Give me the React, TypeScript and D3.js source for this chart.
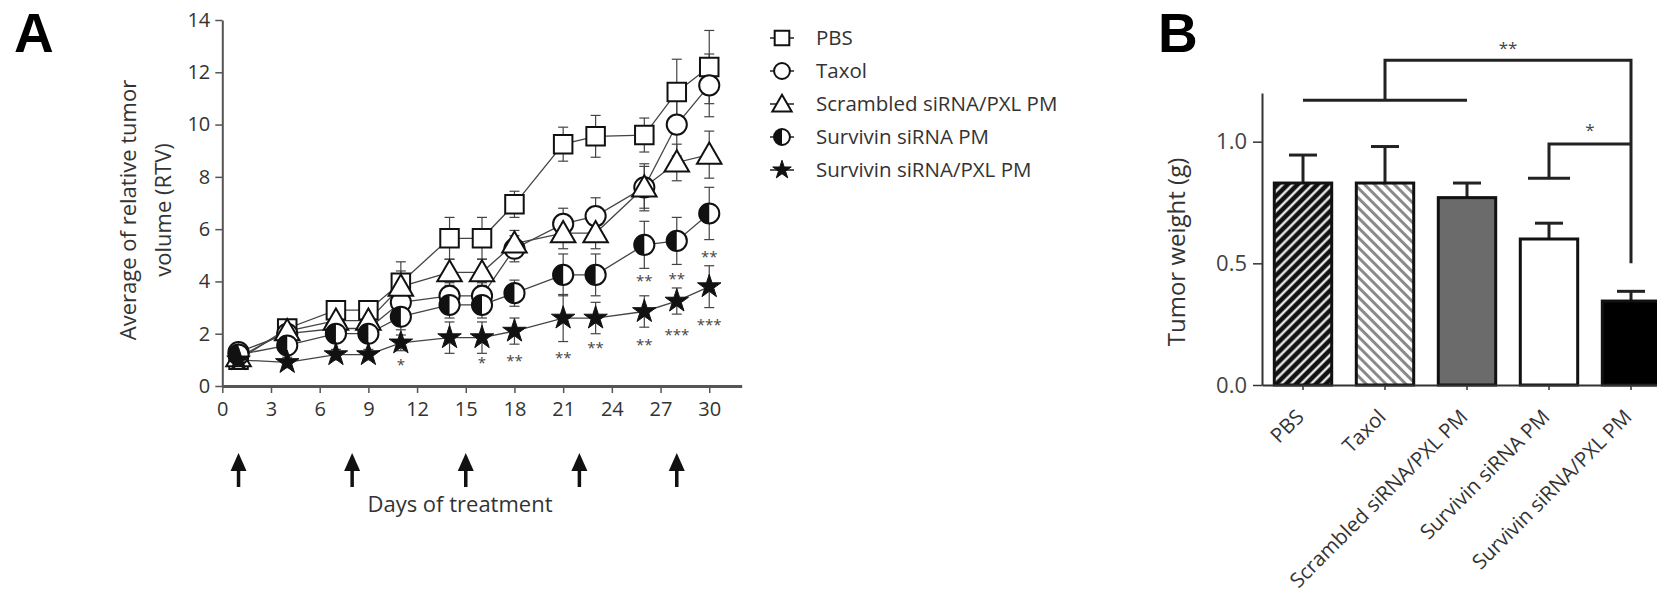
import React, { useEffect, useRef } from 'react';
import * as d3 from 'd3';

// panel A: relative tumor volume over time
const days = [1, 4, 7, 9, 11, 14, 16, 18, 21, 23, 26, 28, 30];
const groupNames = ['PBS', 'Taxol', 'Scrambled siRNA/PXL PM', 'Survivin siRNA PM', 'Survivin siRNA/PXL PM'];
const groupSymbols = ['square', 'circle', 'triangle', 'half', 'star'];

const pbsRTV = [1.0, 2.2, 2.9, 2.9, 3.95, 5.65, 5.65, 6.95, 9.25, 9.55, 9.6, 11.25, 12.2];
const taxolRTV = [1.3, 2.0, 2.2, 2.2, 3.2, 3.45, 3.45, 5.25, 6.2, 6.5, 7.6, 10.0, 11.5];
const scrambledRTV = [1.1, 2.1, 2.5, 2.5, 3.8, 4.35, 4.35, 5.45, 5.85, 5.85, 7.6, 8.55, 8.85];
const survivinRTV = [1.2, 1.55, 2.0, 2.0, 2.65, 3.1, 3.1, 3.55, 4.25, 4.25, 5.4, 5.55, 6.6];
const survivinPxlRTV = [1.0, 0.9, 1.2, 1.2, 1.65, 1.85, 1.85, 2.1, 2.6, 2.6, 2.85, 3.25, 3.8];

const pbsErr = [0.15, 0.25, 0.3, 0.3, 0.8, 0.8, 0.8, 0.5, 0.65, 0.8, 0.65, 1.25, 1.4];
const taxolErr = [0.15, 0.3, 0.3, 0.3, 0.6, 0.5, 0.5, 0.5, 0.6, 0.7, 0.9, 1.2, 1.2];
const scrambledErr = [0.15, 0.3, 0.3, 0.3, 0.6, 0.5, 0.5, 0.5, 0.6, 0.6, 0.8, 0.7, 0.9];
const survivinErr = [0.15, 0.3, 0.3, 0.3, 0.5, 0.5, 0.5, 0.5, 0.8, 0.8, 0.9, 0.9, 1.0];
const survivinPxlErr = [0.1, 0.2, 0.2, 0.2, 0.3, 0.6, 0.6, 0.5, 0.9, 0.6, 0.6, 0.5, 0.8];

const doseDays = [1, 8, 15, 22, 28];
const xTicksA = [0, 3, 6, 9, 12, 15, 18, 21, 24, 27, 30];
const yTicksA = [0, 2, 4, 6, 8, 10, 12, 14];

const sigDays = [11, 16, 18, 21, 23, 26, 26, 28, 28, 30, 30];
const sigLevels = [0.92, 1.0, 1.07, 1.19, 1.57, 4.13, 1.68, 4.2, 2.07, 5.05, 2.45];
const sigLabels = ['*', '*', '**', '**', '**', '**', '**', '**', '***', '**', '***'];

// panel B: tumor weight
const weightMeans = [0.83, 0.83, 0.77, 0.6, 0.345];
const weightErr = [0.115, 0.15, 0.06, 0.065, 0.04];
const barFills = ['url(#hatchDark)', 'url(#hatchLight)', '#6b6b6b', '#ffffff', '#000000'];
const yTicksB = [0, 0.5, 1.0];

const W = 1657;
const H = 608;

function drawMarker(g, type, s) {
  if (type === 'half') {
    g.append('circle').attr('r', s * 0.53).attr('fill', '#fff').attr('stroke', '#111').attr('stroke-width', 2);
    g.append('path')
      .attr('d', d3.arc()({ innerRadius: 0, outerRadius: s * 0.53, startAngle: Math.PI, endAngle: 2 * Math.PI }))
      .attr('fill', '#111');
    return;
  }
  const shape = {
    square: d3.symbolSquare,
    circle: d3.symbolCircle,
    triangle: d3.symbolTriangle,
    star: d3.symbolStar
  }[type];
  const area = {
    square: s * s * 0.95,
    circle: Math.PI * (s * 0.53) * (s * 0.53),
    triangle: s * s * 0.72,
    star: (s * 0.65) * (s * 0.65) / 0.891
  }[type];
  g.append('path')
    .attr('d', d3.symbol().type(shape).size(area)())
    .attr('transform', type === 'triangle' ? 'translate(0,2)' : null)
    .attr('fill', type === 'star' ? '#111' : '#fff')
    .attr('stroke', '#111')
    .attr('stroke-width', type === 'star' ? 1 : 2);
}

export default function App() {
  const ref = useRef(null);

  useEffect(() => {
    const svg = d3.select(ref.current);
    svg.selectAll('*').remove();
    const font = "'Open Sans', 'Noto Sans', sans-serif";

    const defs = svg.append('defs');
    const p1 = defs.append('pattern').attr('id', 'hatchDark').attr('patternUnits', 'userSpaceOnUse')
      .attr('width', 7).attr('height', 7).attr('patternTransform', 'rotate(45)');
    p1.append('rect').attr('width', 7).attr('height', 7).attr('fill', '#111');
    p1.append('line').attr('x1', 1.5).attr('x2', 1.5).attr('y1', 0).attr('y2', 7).attr('stroke', '#fff').attr('stroke-width', 2.2);
    const p2 = defs.append('pattern').attr('id', 'hatchLight').attr('patternUnits', 'userSpaceOnUse')
      .attr('width', 7).attr('height', 7).attr('patternTransform', 'rotate(-45)');
    p2.append('rect').attr('width', 7).attr('height', 7).attr('fill', '#fff');
    p2.append('line').attr('x1', 1.5).attr('x2', 1.5).attr('y1', 0).attr('y2', 7).attr('stroke', '#8a8a8a').attr('stroke-width', 3);

    // ---------- panel A ----------
    const x = d3.scaleLinear().domain([0, 32]).range([222.3, 741.7]);
    const y = d3.scaleLinear().domain([0, 14]).range([386, 20]);

    svg.append('text').attr('x', 14).attr('y', 52).text('A')
      .style('font-family', "'Liberation Sans', Arial, sans-serif").style('font-weight', 'bold').style('font-size', '55px');

    const gx = svg.append('g').attr('transform', `translate(0,${y(0)})`)
      .call(d3.axisBottom(x).tickValues(xTicksA).tickSize(7).tickSizeOuter(0).tickPadding(9));
    gx.select('.domain').attr('stroke', '#555').attr('stroke-width', 3);
    gx.selectAll('.tick line').attr('stroke', '#555').attr('stroke-width', 1.5);
    gx.selectAll('.tick text').style('font-size', '20px').style('font-family', font).attr('fill', '#333');

    const gy = svg.append('g').attr('transform', `translate(${x(0)},0)`)
      .call(d3.axisLeft(y).tickValues(yTicksA).tickSize(7).tickSizeOuter(0).tickPadding(5));
    gy.select('.domain').attr('stroke', '#555').attr('stroke-width', 2);
    gy.selectAll('.tick line').attr('stroke', '#555').attr('stroke-width', 1.5);
    gy.selectAll('.tick text').style('font-size', '20px').style('font-family', font).attr('fill', '#333');

    const yLab = svg.append('text').attr('transform', 'translate(128,210) rotate(-90)')
      .attr('text-anchor', 'middle').style('font-family', font).style('font-size', '22px').attr('fill', '#333');
    yLab.append('tspan').attr('x', 0).attr('dy', '0.35em').text('Average of relative tumor');
    yLab.append('tspan').attr('x', 0).attr('dy', '1.6em').text('volume (RTV)');

    svg.append('text').attr('x', 460).attr('y', 512).attr('text-anchor', 'middle')
      .style('font-family', font).style('font-size', '22px').attr('fill', '#333').text('Days of treatment');

    // dosing arrows
    doseDays.forEach((d) => {
      const g = svg.append('g').attr('transform', `translate(${x(d)},453)`);
      g.append('path').attr('d', 'M0,0 L8,18 L-8,18 Z').attr('fill', '#111');
      g.append('line').attr('x1', 0).attr('x2', 0).attr('y1', 14).attr('y2', 34).attr('stroke', '#111').attr('stroke-width', 3.5);
    });

    const series = [pbsRTV, taxolRTV, scrambledRTV, survivinRTV, survivinPxlRTV];
    const errs = [pbsErr, taxolErr, scrambledErr, survivinErr, survivinPxlErr];
    const line = d3.line().x((d, i) => x(days[i])).y((d) => y(d));

    series.forEach((vals, si) => {
      const eg = svg.append('g');
      vals.forEach((v, i) => {
        const e = errs[si][i];
        const cx = x(days[i]);
        eg.append('line').attr('x1', cx).attr('x2', cx).attr('y1', y(v - e)).attr('y2', y(v + e))
          .attr('stroke', '#444').attr('stroke-width', 1.2);
        [v - e, v + e].forEach((t) => {
          eg.append('line').attr('x1', cx - 5).attr('x2', cx + 5).attr('y1', y(t)).attr('y2', y(t))
            .attr('stroke', '#444').attr('stroke-width', 1.2);
        });
      });
    });
    series.forEach((vals) => {
      svg.append('path').attr('d', line(vals)).attr('fill', 'none').attr('stroke', '#444').attr('stroke-width', 1.3);
    });
    series.forEach((vals, si) => {
      vals.forEach((v, i) => {
        const g = svg.append('g').attr('transform', `translate(${x(days[i])},${y(v)})`);
        drawMarker(g, groupSymbols[si], 19);
      });
    });

    sigDays.forEach((d, i) => {
      svg.append('text').attr('x', x(d)).attr('y', y(sigLevels[i])).attr('dy', '0.55em')
        .attr('text-anchor', 'middle').style('font-family', font).style('font-size', '15px')
        .attr('fill', '#444').text(sigLabels[i]);
    });

    // legend
    groupNames.forEach((name, i) => {
      const ly = 38 + i * 33;
      svg.append('line').attr('x1', 770).attr('x2', 794).attr('y1', ly).attr('y2', ly).attr('stroke', '#222').attr('stroke-width', 1.5);
      drawMarker(svg.append('g').attr('transform', `translate(782,${ly})`), groupSymbols[i], 15);
      svg.append('text').attr('x', 816).attr('y', ly).attr('dy', '0.35em')
        .style('font-family', font).style('font-size', '20.5px').attr('fill', '#333').text(name);
    });

    // ---------- panel B ----------
    const xB = d3.scaleBand().domain(groupNames).range([1262, 1672]).paddingInner(0.3).paddingOuter(0.15);
    const yB = d3.scaleLinear().domain([0, 1.2]).range([385, 93]);
    const cB = (i) => xB(groupNames[i]) + xB.bandwidth() / 2;

    svg.append('text').attr('x', 1158).attr('y', 52).text('B')
      .style('font-family', "'Liberation Sans', Arial, sans-serif").style('font-weight', 'bold').style('font-size', '55px');

    const gyB = svg.append('g').attr('transform', 'translate(1262,0)')
      .call(d3.axisLeft(yB).tickValues(yTicksB).tickFormat(d3.format('.1f')).tickSize(9).tickSizeOuter(0).tickPadding(6));
    gyB.select('.domain').attr('stroke', '#333').attr('stroke-width', 2);
    gyB.selectAll('.tick line').attr('stroke', '#333').attr('stroke-width', 1.5);
    gyB.selectAll('.tick text').style('font-size', '22px').style('font-family', font).attr('fill', '#444');

    svg.append('text').attr('transform', 'translate(1177,252) rotate(-90)').attr('text-anchor', 'middle')
      .attr('dy', '0.35em').style('font-family', font).style('font-size', '24px').attr('fill', '#333').text('Tumor weight (g)');

    weightMeans.forEach((m, i) => {
      const cx = cB(i);
      svg.append('line').attr('x1', cx).attr('x2', cx).attr('y1', yB(m)).attr('y2', yB(m + weightErr[i]))
        .attr('stroke', '#222').attr('stroke-width', 3);
      svg.append('line').attr('x1', cx - 14).attr('x2', cx + 14).attr('y1', yB(m + weightErr[i])).attr('y2', yB(m + weightErr[i]))
        .attr('stroke', '#222').attr('stroke-width', 3);
      svg.append('rect').attr('x', xB(groupNames[i])).attr('y', yB(m)).attr('width', xB.bandwidth())
        .attr('height', yB(0) - yB(m)).attr('fill', barFills[i]).attr('stroke', '#111').attr('stroke-width', 3);
    });

    const gxB = svg.append('g').attr('transform', 'translate(0,385)')
      .call(d3.axisBottom(xB).tickSize(5).tickSizeOuter(0));
    gxB.select('.domain').attr('stroke', '#333').attr('stroke-width', 2);
    gxB.selectAll('.tick line').attr('stroke', '#333').attr('stroke-width', 1.5);
    gxB.selectAll('.tick text')
      .attr('transform', 'rotate(-45)').attr('text-anchor', 'end').attr('x', -22).attr('y', 25).attr('dy', 0)
      .style('font-size', '20.5px').style('font-family', font).attr('fill', '#333');

    // significance brackets
    const sigStroke = (p) => svg.append('path').attr('d', p).attr('fill', 'none').attr('stroke', '#222').attr('stroke-width', 3);
    sigStroke(`M${cB(0)},${yB(1.17)}H${cB(2)}`);
    sigStroke(`M${cB(1)},${yB(1.17)}V${yB(1.335)}H${cB(4)}V${yB(0.5)}`);
    sigStroke(`M${cB(3) - 21},${yB(0.85)}H${cB(3) + 21}M${cB(3)},${yB(0.85)}V${yB(0.99)}H${cB(4)}`);
    svg.append('text').attr('x', (cB(1) + cB(4)) / 2).attr('y', yB(1.4)).attr('dy', '0.55em').attr('text-anchor', 'middle')
      .style('font-family', font).style('font-size', '17px').attr('fill', '#444').text('**');
    svg.append('text').attr('x', (cB(3) + cB(4)) / 2).attr('y', yB(1.06)).attr('dy', '0.55em').attr('text-anchor', 'middle')
      .style('font-family', font).style('font-size', '17px').attr('fill', '#444').text('*');
  }, []);

  return (
    <svg ref={ref} width={W} height={H} style={{ position: 'absolute', left: 0, top: 0, background: '#fff' }} />
  );
}
